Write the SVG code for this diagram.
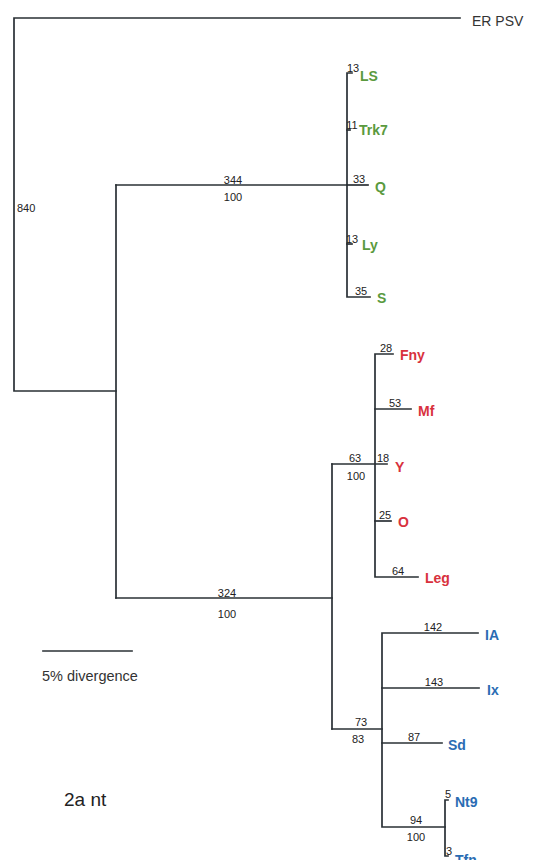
<svg xmlns="http://www.w3.org/2000/svg" width="541" height="860" viewBox="0 0 541 860">
<style>
.br{fill:none;stroke:#2a3035;stroke-width:1.7;stroke-linecap:square}
.n{font-family:"Liberation Sans",Arial,sans-serif;font-size:11px;fill:#222}
.nm{font-family:"Liberation Sans",Arial,sans-serif;font-size:11px;fill:#222;text-anchor:middle}
.g{font-family:"Liberation Sans",Arial,sans-serif;font-size:14px;font-weight:bold;fill:#5a9a3e}
.r{font-family:"Liberation Sans",Arial,sans-serif;font-size:14px;font-weight:bold;fill:#d8313d}
.b{font-family:"Liberation Sans",Arial,sans-serif;font-size:14px;font-weight:bold;fill:#2a6cb3}
.t{font-family:"Liberation Sans",Arial,sans-serif;font-size:14px;fill:#333}
</style>
<rect width="541" height="860" fill="#fff"/>
<g id="connectors">
<path class="br" d="M460,18 H14 V391 H116"/>
<path class="br" d="M116,185 V598"/>
<path class="br" d="M116,185 H347"/>
<path class="br" d="M352,73 H347 V297 H370"/>
<path class="br" d="M347,130 H350"/>
<path class="br" d="M347,185 H368"/>
<path class="br" d="M347,244 H352"/>
<path class="br" d="M116,598 H332"/>
<path class="br" d="M332,464 V729"/>
<path class="br" d="M332,464 H387"/>
<path class="br" d="M393,354 H375 V577 H418"/>
<path class="br" d="M375,409 H411"/>
<path class="br" d="M375,521 H391"/>
<path class="br" d="M332,729 H382"/>
<path class="br" d="M478,633 H382 V827 H445"/>
<path class="br" d="M382,688 H479"/>
<path class="br" d="M382,743 H442"/>
<path class="br" d="M448,800 H445 V856 H448"/>
<path class="br" d="M43,651 H132"/>
</g>
<g id="branch-labels">
<text class="n" x="17" y="212">840</text>
<text class="nm" x="233" y="184">344</text>
<text class="nm" x="233" y="201">100</text>
<text class="nm" x="227" y="597">324</text>
<text class="nm" x="227" y="618">100</text>
<text class="nm" x="355" y="462">63</text>
<text class="nm" x="356" y="480">100</text>
<text class="nm" x="361" y="726">73</text>
<text class="nm" x="358" y="743">83</text>
<text class="nm" x="416" y="824">94</text>
<text class="nm" x="416" y="841">100</text>
</g>
<g id="ER-PSV"><text class="t" x="472" y="26">ER PSV</text></g>
<g id="LS"><text class="nm" x="353" y="72">13</text><text class="g" x="360" y="81">LS</text></g>
<g id="Trk7"><text class="nm" x="352" y="129">11</text><text class="g" x="359" y="135">Trk7</text></g>
<g id="Q"><text class="nm" x="359" y="183">33</text><text class="g" x="375" y="192">Q</text></g>
<g id="Ly"><text class="nm" x="352" y="243">13</text><text class="g" x="362" y="250">Ly</text></g>
<g id="S"><text class="nm" x="361" y="295">35</text><text class="g" x="377" y="303">S</text></g>
<g id="Fny"><text class="nm" x="386" y="352">28</text><text class="r" x="400" y="360">Fny</text></g>
<g id="Mf"><text class="nm" x="395" y="407">53</text><text class="r" x="418" y="416">Mf</text></g>
<g id="Y"><text class="nm" x="383" y="462">18</text><text class="r" x="395" y="472">Y</text></g>
<g id="O"><text class="nm" x="385" y="519">25</text><text class="r" x="398" y="527">O</text></g>
<g id="Leg"><text class="nm" x="398" y="575">64</text><text class="r" x="425" y="583">Leg</text></g>
<g id="IA"><text class="nm" x="433" y="631">142</text><text class="b" x="485" y="640">IA</text></g>
<g id="Ix"><text class="nm" x="434" y="686">143</text><text class="b" x="487" y="695">Ix</text></g>
<g id="Sd"><text class="nm" x="414" y="741">87</text><text class="b" x="448" y="750">Sd</text></g>
<g id="Nt9"><text class="nm" x="448" y="798">5</text><text class="b" x="455" y="807">Nt9</text></g>
<g id="Tfn"><text class="nm" x="449" y="855">3</text><text class="b" x="455" y="865">Tfn</text></g>
<g id="legend">
<text class="t" x="42" y="681" style="font-size:14.5px">5% divergence</text>
<text class="t" x="64" y="806" style="font-size:19px;fill:#222">2a nt</text>
</g>
</svg>
